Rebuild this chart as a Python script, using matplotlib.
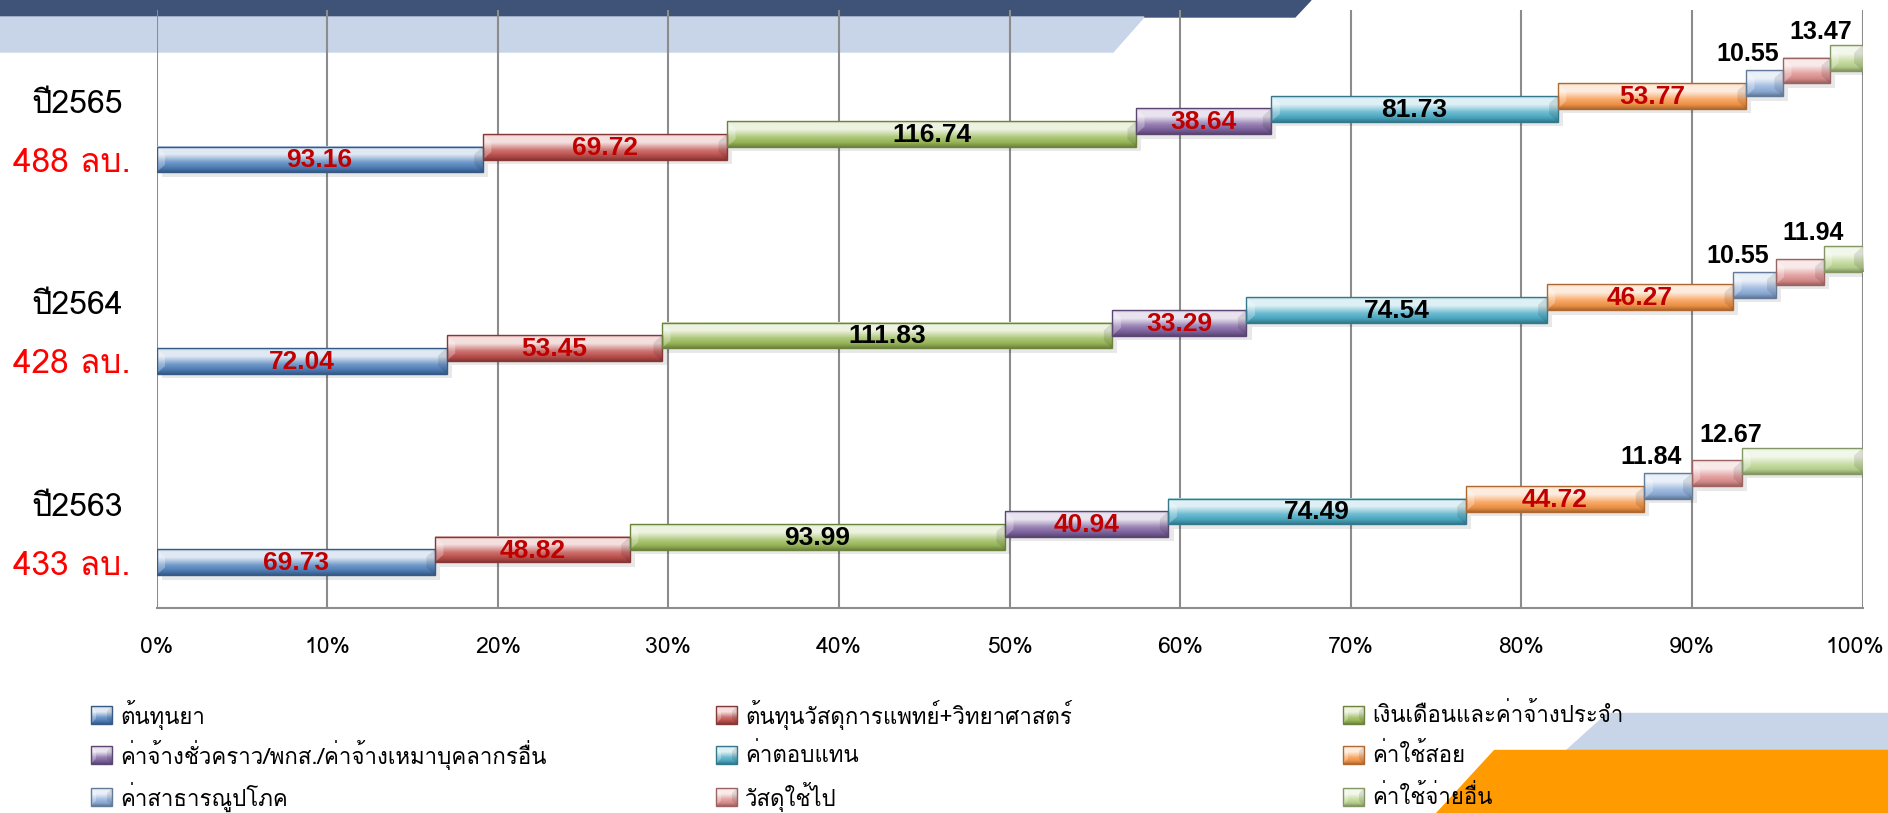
import numpy as np
import matplotlib
matplotlib.use("Agg")
import matplotlib.pyplot as plt
import matplotlib.colors as mcolors
import matplotlib.transforms as mtransforms
from matplotlib import font_manager
from matplotlib.ft2font import FT2Font
from matplotlib.patches import Polygon, Rectangle

# ── data ──
years = ["ปี2563", "ปี2564", "ปี2565"]
totals = ["433 ลบ.", "428 ลบ.", "488 ลบ."]
series = [
    "ต้นทุนยา", "ต้นทุนวัสดุการแพทย์+วิทยาศาสตร์", "เงินเดือนและค่าจ้างประจำ",
    "ค่าจ้างชั่วคราว/พกส./ค่าจ้างเหมาบุคลากรอื่น", "ค่าตอบแทน", "ค่าใช้สอย",
    "ค่าสาธารณูปโภค", "วัสดุใช้ไป", "ค่าใช้จ่ายอื่น",
]
v2563 = [69.73, 48.82, 93.99, 40.94, 74.49, 44.72, 11.84, 12.67, 30.2]
v2564 = [72.04, 53.45, 111.83, 33.29, 74.54, 46.27, 10.55, 11.94, 9.7]
v2565 = [93.16, 69.72, 116.74, 38.64, 81.73, 53.77, 10.55, 13.47, 9.3]
values = [v2563, v2564, v2565]
ticks = [0, 10, 20, 30, 40, 50, 60, 70, 80, 90, 100]

# ── style ──
colors = ["#4F81BD", "#C0504D", "#9BBB59", "#8064A2", "#4BACC6",
          "#F79646", "#8EAEDB", "#DE8F8E", "#BCD690"]
label_colors = ["#C00000", "#C00000", "black", "#C00000", "black", "#C00000"]
STEP, BAR_H = 0.063, 0.128


def thai_family():
    for fe in font_manager.fontManager.ttflist:
        try:
            if 0x0E1B in FT2Font(fe.fname).get_charmap() and fe.weight in (400, "normal", "regular"):
                return fe.name
        except Exception:
            pass
    return "DejaVu Sans"


TH = thai_family()
plt.rcParams["font.family"] = [TH, "DejaVu Sans"]


def gradient(base):
    r = np.array(mcolors.to_rgb(base))
    light = r + (1 - r) * 0.82
    mid = r + (1 - r) * 0.2
    dark = r * 0.7
    stops = [0, 0.1, 0.32, 0.62, 0.84, 1.0]
    cols = np.array([r + (1 - r) * 0.55, light, light, mid, r * 0.95, dark])
    t = np.linspace(0, 1, 80)
    out = np.stack([np.interp(t, stops, cols[:, k]) for k in range(3)], axis=1)
    return out[:, None, :]


def bevel_bar(a, x0, x1, ybot, ytop, b, color, z):
    a.imshow(gradient(color), extent=(x0, x1, ybot, ytop), aspect="auto",
             interpolation="bilinear", zorder=z)
    ym = (ybot + ytop) / 2
    it, ib = ytop + (ym - ytop) * 0.6, ybot + (ym - ybot) * 0.6
    a.add_patch(Polygon([(x0, ybot), (x0, ytop), (x0 + b, it), (x0 + b, ib)],
                        fc="white", alpha=0.28, lw=0, zorder=z + 0.1))
    a.add_patch(Polygon([(x1, ybot), (x1, ytop), (x1 - b, it), (x1 - b, ib)],
                        fc="black", alpha=0.10, lw=0, zorder=z + 0.1))
    a.add_patch(Rectangle((x0, min(ybot, ytop)), x1 - x0, abs(ytop - ybot), fill=False,
                          ec=np.array(mcolors.to_rgb(color)) * 0.7, lw=1, zorder=z + 0.2))


fig = plt.figure(figsize=(18.88, 8.13), dpi=100)

# background decoration
bg = fig.add_axes([0, 0, 1, 1], zorder=-5)
bg.axis("off")
bg.add_patch(Polygon([(0, 0), (1311, 0), (1295, 17), (0, 17)], color="#3F5378"))
bg.add_patch(Polygon([(0, 17), (1144, 17), (1113, 52), (0, 52)], color="#C8D4E7"))
bg.add_patch(Polygon([(1607, 713), (1888, 713), (1888, 750), (1566, 750)], color="#C8D4E7"))
bg.add_patch(Polygon([(1494, 750), (1888, 750), (1888, 813), (1436, 813)], color="#FF9A00"))

ax = fig.add_axes([0.0829, 0.252, 0.9037, 0.736])
ax.patch.set_alpha(0)

for c, vals in enumerate(values):
    share = np.array(vals) / np.sum(vals) * 100
    left = np.concatenate([[0], np.cumsum(share)[:-1]])
    for i, (l, w) in enumerate(zip(left, share)):
        y = c + i * STEP
        y0, y1 = y - BAR_H / 2, y + BAR_H / 2
        ax.add_patch(Rectangle((l + 0.3, y0 - 0.022), w, BAR_H, color="black",
                               alpha=0.09, lw=0, zorder=2))
        bevel_bar(ax, l, l + w, y0, y1, 0.5, colors[i], 3)
        txt = f"{vals[i]:.2f}"
        if i < 6:
            ax.text(l + w / 2, y - 0.005, txt, ha="center", va="center", fontsize=19,
                    fontweight="bold", color=label_colors[i], family="Liberation Sans", zorder=6)
        elif i == 6:
            ax.annotate(txt, (l + w / 2, y1), xytext=(-12, 3), textcoords="offset points",
                        ha="center", va="bottom", fontsize=18, fontweight="bold",
                        family="Liberation Sans", zorder=6)
        elif i == 7:
            ax.annotate(txt, (l + w / 2, y1), xytext=(10, 10), textcoords="offset points",
                        ha="center", va="bottom", fontsize=18, fontweight="bold",
                        family="Liberation Sans", zorder=6)
    ax.text(-0.0195, c + 0.27, years[c], transform=ax.get_yaxis_transform(),
            ha="right", va="center", fontsize=23)
    ax.text(-0.0841, c - 0.02, totals[c], transform=ax.get_yaxis_transform(),
            ha="left", va="center", fontsize=24, color="#FF0000")

ax.set_xlim(0, 100)
ax.set_ylim(-0.228, 2.743)
ax.set_xticks(ticks)
ax.set_xticklabels([f"{t}%" for t in ticks], fontsize=16.5)
ax.set_yticks([])
ax.tick_params(axis="x", length=0, pad=21)
ax.grid(axis="x", color="#8C8C8C", lw=1.5, zorder=1)
for s in ["top", "right", "left"]:
    ax.spines[s].set_visible(False)
ax.spines["bottom"].set_color("#8C8C8C")
ax.spines["bottom"].set_linewidth(1.5)
# keep the last tick label inside the canvas
last = ax.get_xticklabels()[-1]
last.set_transform(last.get_transform() + mtransforms.ScaledTranslation(-6 / 72, 0, fig.dpi_scale_trans))

# legend (row-major, 3 columns)
col_x = [91, 716, 1343]
row_y = [715, 755, 797]
for k, name in enumerate(series):
    cx, cy = col_x[k % 3], row_y[k // 3]
    bevel_bar(bg, cx, cx + 21, cy + 9, cy - 9, 5, colors[k], 3)
    bg.text(cx + 29, cy, name, ha="left", va="center", fontsize=16, zorder=5)
bg.set_xlim(0, 1888)
bg.set_ylim(813, 0)

fig.savefig("out.png", dpi=100)
